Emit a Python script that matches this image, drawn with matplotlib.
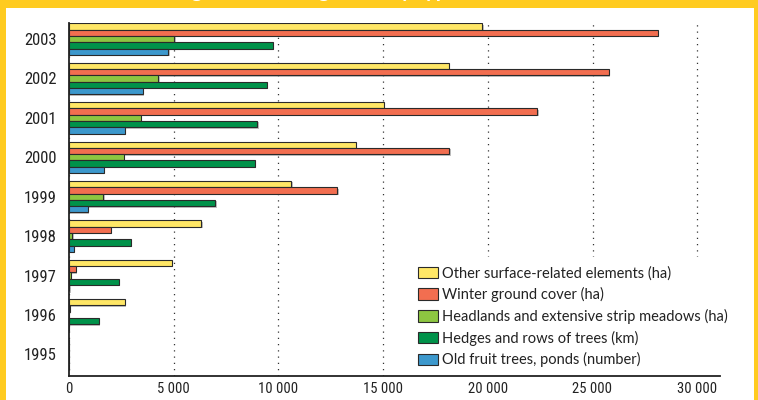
import matplotlib
matplotlib.use("Agg")
import matplotlib.pyplot as plt
from matplotlib.patches import Rectangle, Patch
from matplotlib import patheffects as pe
from matplotlib import font_manager as fm
import numpy as np

years = ["1995", "1996", "1997", "1998", "1999", "2000", "2001", "2002", "2003"]
other = [0, 2660, 4900, 6320, 10620, 13690, 15040, 18150, 19740]
winter = [0, 30, 320, 2010, 12810, 18160, 22360, 25770, 28110]
headlands = [0, 0, 100, 160, 1640, 2610, 3440, 4270, 5030]
hedges = [0, 1420, 2370, 2950, 6990, 8870, 8990, 9460, 9730]
fruit = [0, 0, 20, 220, 910, 1670, 2660, 3520, 4740]

series_labels = ["Other surface-related elements (ha)",
                 "Winter ground cover (ha)",
                 "Headlands and extensive strip meadows (ha)",
                 "Hedges and rows of trees (km)",
                 "Old fruit trees, ponds (number)"]
xticks = [0, 5000, 10000, 15000, 20000, 25000, 30000]
xtick_labels = ["0", "5 000", "10 000", "15 000", "20 000", "25 000", "30 000"]
title = "Ecological offsetting areas by type"

colors = ["#FFE766", "#F26E50", "#8DC641", "#00924A", "#3C98CC"]
series = [other, winter, headlands, hedges, fruit]

names = {f.name for f in fm.fontManager.ttflist}
legfont = "Lato" if "Lato" in names else "DejaVu Sans"


def find_condensed():
    cands = []
    for f in fm.fontManager.ttflist:
        fn = f.fname.lower()
        if ("condensed" in fn or "narrow" in fn or str(f.stretch) in ("condensed", "semi-condensed")) \
                and f.style == "normal" and f.weight in (400, "normal", "regular"):
            if "extra" in fn or "ultra" in fn or "semi" in fn or "light" in fn or "italic" in fn \
                    or "bold" in fn or "medium" in fn or "thin" in fn or "black" in fn:
                continue
            pri = 9
            for i, key in enumerate(["liberationsansnarrow", "robotocondensed", "notosans-condensed",
                                     "dejavusanscondensed", "opensans", "notosans"]):
                if key in fn.replace("_", "").replace(" ", ""):
                    pri = i
                    break
            cands.append((pri, f.fname))
    cands.sort()
    return cands[0][1] if cands else None


cf = find_condensed()
if cf:
    tick_fp_y = fm.FontProperties(fname=cf, size=12)
    tick_fp_x = fm.FontProperties(fname=cf, size=10.5)
else:
    tick_fp_y = fm.FontProperties(family="Roboto", size=11.5)
    tick_fp_x = fm.FontProperties(family="Roboto", size=10)

W, H = 758, 400
fig = plt.figure(figsize=(W / 100, H / 100), dpi=100, facecolor="#FFCB20")
# white panel
fig.patches.append(Rectangle((6 / W, 0), (754 - 6) / W, (400 - 8) / H,
                             transform=fig.transFigure, facecolor="white",
                             edgecolor="none", zorder=-5))
fig.text(140 / W, 1 + 3 / H, title, color="white", fontsize=15, fontweight="bold",
         va="baseline", ha="left", family=legfont, zorder=-4)

ax_left, ax_right = 69, 720
ax_top, ax_bot = 22.7, 375.5
ax = fig.add_axes([ax_left / W, 1 - ax_bot / H, (ax_right - ax_left) / W, (ax_bot - ax_top) / H])
ax.set_facecolor("none")
ax.set_zorder(2)

ypos = np.arange(len(years))
h = 0.16
offsets = [0.32, 0.16, 0.0, -0.16, -0.32]
shadow = [pe.SimplePatchShadow(offset=(1, -1), shadow_rgbFace="#999999", alpha=0.6), pe.Normal()]
for vals, col, off, lab in zip(series, colors, offsets, series_labels):
    bars = ax.barh(ypos + off, vals, height=h, color=col, edgecolor="#2a2a2a",
                   linewidth=0.8, zorder=3, label=lab)
    for b in bars:
        b.set_path_effects(shadow)

scale = 20.94 / 1000
ax.set_xlim(0, (ax_right - ax_left) / scale)
ax.set_ylim(-(ax_bot - 354.3) / 39.4, 8 + (39.1 - ax_top) / 39.4)

ax.set_xticks(xticks)
ax.set_xticklabels(xtick_labels, fontproperties=tick_fp_x, color="#222222")
ax.set_yticks(ypos)
ax.set_yticklabels(years, fontproperties=tick_fp_y, color="#222222")
ax.tick_params(axis="both", length=0)
ax.tick_params(axis="x", pad=5)
ax.tick_params(axis="y", pad=9)

ax.grid(axis="x", color="#333333", linestyle=(0, (1, 4)), linewidth=0.9, zorder=1)
ax.grid(axis="y", visible=False)
ax.set_axisbelow(True)
for s in ["top", "right"]:
    ax.spines[s].set_visible(False)
for s in ["left", "bottom"]:
    ax.spines[s].set_linewidth(1.3)
    ax.spines[s].set_color("#222222")
    ax.spines[s].set_zorder(8)

handles = [Patch(facecolor=c, edgecolor="#2a2a2a", linewidth=0.8) for c in colors]
leg = ax.legend(handles, series_labels, loc="upper left",
                bbox_to_anchor=(402 / W, 1 - 250 / H), bbox_transform=fig.transFigure,
                frameon=True, framealpha=1, facecolor="white", edgecolor="none",
                fancybox=False, borderpad=0.6, handlelength=1.4, handleheight=0.85,
                handletextpad=0.25, labelspacing=0.46,
                prop={"family": legfont, "size": 10.5})
leg.set_zorder(6)
for t in leg.get_texts():
    t.set_color("#222222")

fig.savefig("out.png", dpi=100, facecolor=fig.get_facecolor())
